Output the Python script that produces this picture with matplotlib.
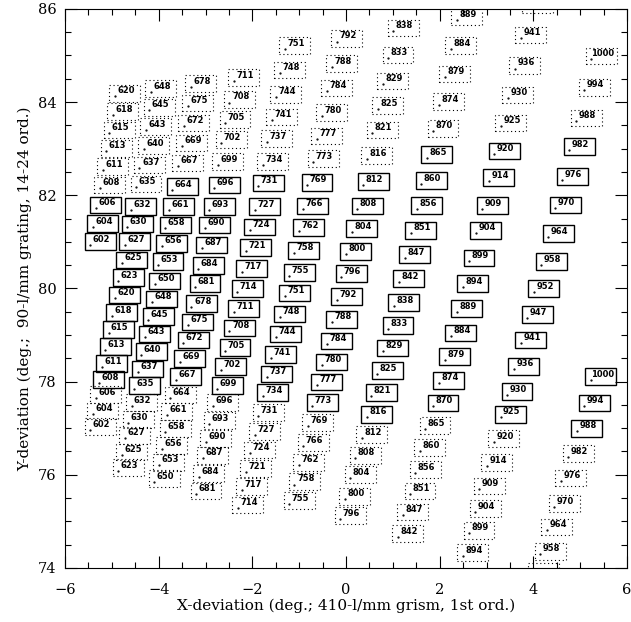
import matplotlib
matplotlib.use('Agg')
import matplotlib.pyplot as plt
from matplotlib.patches import Rectangle
from matplotlib.ticker import MultipleLocator
import numpy as np

######################################################################
# solid boxes (orders 24 ... 14), wavelength labels in nm
solid_lab = [602, 604, 606,
             608, 611, 613, 615, 618, 620, 623, 625, 627, 630, 632,
             635, 637, 640, 643, 645, 648, 650, 653, 656, 658, 661, 664,
             667, 669, 672, 675, 678, 681, 684, 687, 690, 693, 696,
             699, 702, 705, 708, 711, 714, 717, 721, 724, 727, 731,
             734, 737, 741, 744, 748, 751, 755, 758, 762, 766, 769,
             773, 777, 780, 784, 788, 792, 796, 800, 804, 808, 812,
             816, 821, 825, 829, 833, 838, 842, 847, 851, 856, 860, 865,
             870, 874, 879, 884, 889, 894, 899, 904, 909, 914, 920,
             925, 930, 936, 941, 947, 952, 958, 964, 970, 976, 982,
             988, 994, 1000]
solid_x = [-5.25, -5.19, -5.13,
           -5.07, -5.00, -4.93, -4.86, -4.79, -4.73, -4.65, -4.58, -4.51, -4.46, -4.38,
           -4.31, -4.23, -4.16, -4.09, -4.01, -3.94, -3.87, -3.80, -3.72, -3.65, -3.57, -3.50,
           -3.42, -3.34, -3.26, -3.17, -3.09, -3.01, -2.94, -2.87, -2.80, -2.71, -2.60,
           -2.54, -2.46, -2.37, -2.28, -2.19, -2.11, -2.01, -1.93, -1.84, -1.74, -1.66,
           -1.57, -1.48, -1.39, -1.29, -1.20, -1.10, -1.00, -0.90, -0.80, -0.71, -0.62,
           -0.51, -0.41, -0.31, -0.20, -0.09, 0.01, 0.11, 0.21, 0.33, 0.45, 0.58,
           0.66, 0.75, 0.88, 0.99, 1.11, 1.23, 1.34, 1.47, 1.59, 1.72, 1.82, 1.94,
           2.07, 2.19, 2.32, 2.45, 2.58, 2.71, 2.84, 2.98, 3.12, 3.26, 3.38,
           3.51, 3.65, 3.79, 3.94, 4.08, 4.22, 4.38, 4.53, 4.68, 4.83, 4.98,
           5.14, 5.30, 5.44]
solid_y = [81.01, 81.39, 81.79,
           78.04, 78.39, 78.75, 79.12, 79.48, 79.86, 80.23, 80.61, 81.00, 81.38, 81.76,
           77.91, 78.27, 78.64, 79.02, 79.39, 79.77, 80.16, 80.57, 80.97, 81.36, 81.76, 82.19,
           78.11, 78.49, 78.89, 79.28, 79.68, 80.10, 80.49, 80.93, 81.36, 81.76, 82.22,
           77.91, 78.32, 78.73, 79.15, 79.57, 79.99, 80.42, 80.87, 81.32, 81.76, 82.26,
           77.76, 78.16, 78.58, 79.02, 79.45, 79.90, 80.34, 80.82, 81.30, 81.77, 82.28,
           77.55, 77.99, 78.42, 78.87, 79.34, 79.82, 80.32, 80.80, 81.28, 81.77, 82.29,
           77.30, 77.76, 78.23, 78.72, 79.20, 79.70, 80.21, 80.72, 81.25, 81.78, 82.32, 82.87,
           77.54, 78.03, 78.53, 79.04, 79.57, 80.10, 80.65, 81.25, 81.78, 82.38, 82.95,
           77.30, 77.78, 78.33, 78.89, 79.44, 79.99, 80.58, 81.18, 81.79, 82.40, 83.04,
           77.00, 77.54, 78.11]

# dotted boxes, upper group
upper_lab = [608, 611, 613, 615, 618, 620,
             635, 637, 640, 643, 645, 648,
             667, 669, 672, 675, 678,
             699, 702, 705, 708, 711,
             734, 737, 741, 744, 748, 751,
             773, 777, 780, 784, 788, 792,
             816, 821, 825, 829, 833, 838,
             870, 874, 879, 884, 889,
             925, 930, 936, 941, 947,
             988, 994, 1000]
upper_x = [-5.05, -4.98, -4.91, -4.84, -4.77, -4.72,
           -4.27, -4.20, -4.11, -4.06, -3.99, -3.96,
           -3.38, -3.29, -3.25, -3.17, -3.10,
           -2.53, -2.45, -2.37, -2.28, -2.19,
           -1.56, -1.48, -1.37, -1.29, -1.20, -1.10,
           -0.49, -0.41, -0.31, -0.20, -0.09, 0.02,
           0.66, 0.77, 0.89, 1.00, 1.11, 1.22,
           2.07, 2.19, 2.32, 2.45, 2.58,
           3.52, 3.66, 3.81, 3.94, 4.08,
           5.13, 5.30, 5.45]
upper_y = [82.22, 82.61, 83.01, 83.40, 83.80, 84.19,
           82.24, 82.65, 83.06, 83.47, 83.89, 84.29,
           82.69, 83.12, 83.55, 83.98, 84.40,
           82.72, 83.19, 83.62, 84.06, 84.52,
           82.72, 83.22, 83.68, 84.17, 84.69, 85.21,
           82.79, 83.27, 83.77, 84.30, 84.82, 85.37,
           82.85, 83.40, 83.92, 84.45, 85.01, 85.59,
           83.44, 84.01, 84.60, 85.21, 85.83,
           83.55, 84.15, 84.79, 85.44, 86.09,
           83.66, 84.32, 84.99]

# dotted boxes, lower group
lower_lab = [602, 604, 606,
             623, 625, 627, 630, 632,
             650, 653, 656, 658, 661, 664,
             681, 684, 687, 690, 693, 696,
             714, 717, 721, 724, 727, 731,
             755, 758, 762, 766, 769,
             796, 800, 804, 808, 812,
             842, 847, 851, 856, 860, 865,
             894, 899, 904, 909, 914, 920,
             952, 958, 964, 970, 976, 982]
lower_x = [-5.25, -5.19, -5.13,
           -4.65, -4.58, -4.51, -4.44, -4.37,
           -3.88, -3.79, -3.72, -3.65, -3.61, -3.54,
           -2.99, -2.93, -2.85, -2.79, -2.71, -2.63,
           -2.10, -2.02, -1.93, -1.84, -1.74, -1.66,
           -1.00, -0.89, -0.80, -0.70, -0.61,
           0.09, 0.19, 0.30, 0.41, 0.55,
           1.32, 1.42, 1.58, 1.69, 1.79, 1.90,
           2.71, 2.84, 2.97, 3.06, 3.22, 3.37,
           4.22, 4.36, 4.50, 4.66, 4.80, 4.96]
lower_y = [77.04, 77.37, 77.72,
           76.15, 76.49, 76.85, 77.19, 77.55,
           75.92, 76.27, 76.63, 76.99, 77.36, 77.71,
           75.65, 76.02, 76.42, 76.78, 77.16, 77.55,
           75.35, 75.74, 76.13, 76.53, 76.93, 77.33,
           75.45, 75.86, 76.27, 76.69, 77.12,
           75.12, 75.54, 76.00, 76.42, 76.86,
           74.74, 75.20, 75.65, 76.11, 76.58, 77.06,
           74.33, 74.81, 75.27, 75.76, 76.26, 76.78,
           73.93, 74.36, 74.88, 75.38, 75.93, 76.45]
######################################################################
box_w = 0.66
box_h = 0.36
dotted = (0, (1, 2.5))
y_lo, y_hi = 74, 86

plt.rcParams['font.family'] = 'DejaVu Serif'

fig = plt.figure(figsize=(6.31, 6.22), dpi=100)
ax = fig.add_axes([0.103, 0.087, 0.8907, 0.8987])


def draw_boxes(labs, xs, ys, ls, lw):
    for lab, x, y in zip(labs, xs, ys):
        ax.add_patch(Rectangle((x - box_w / 2, y - box_h / 2), box_w, box_h,
                               fill=False, ec='black', lw=lw, ls=ls))
        # boxes centred outside the frame only show their edge
        if y > y_hi or y < y_lo:
            continue
        ax.text(x + 0.03, y - 0.005, str(lab), ha='center', va='baseline',
                fontsize=6, fontweight='bold', family='DejaVu Sans')
        ax.plot(x - 0.21, y - 0.07, '.', color='black', ms=1.2)


draw_boxes(solid_lab, solid_x, solid_y, '-', 1.0)
draw_boxes(upper_lab, upper_x, upper_y, dotted, 0.8)
draw_boxes(lower_lab, lower_x, lower_y, dotted, 0.8)

ax.set_xlim(-6, 6)
ax.set_ylim(y_lo, y_hi)
ax.set_xticks(np.arange(-6, 7, 2))
ax.set_yticks(np.arange(74, 87, 2))
ax.xaxis.set_minor_locator(MultipleLocator(0.5))
ax.yaxis.set_minor_locator(MultipleLocator(0.5))
ax.tick_params(which='both', direction='in', top=True, right=True,
               width=0.8, labelsize=10.5)
ax.tick_params(which='major', length=8.5)
ax.tick_params(which='minor', length=4.2)
ax.tick_params(axis='x', pad=11)
ax.tick_params(axis='y', pad=6)
for sp in ax.spines.values():
    sp.set_linewidth(0.8)

ax.set_xlabel('X-deviation (deg.; 410-l/mm grism, 1st ord.)', fontsize=11,
              labelpad=1)
ax.set_ylabel('Y-deviation (deg.;  90-l/mm grating, 14-24 ord.)', fontsize=11,
              labelpad=4)

fig.savefig('out.png', dpi=100)
